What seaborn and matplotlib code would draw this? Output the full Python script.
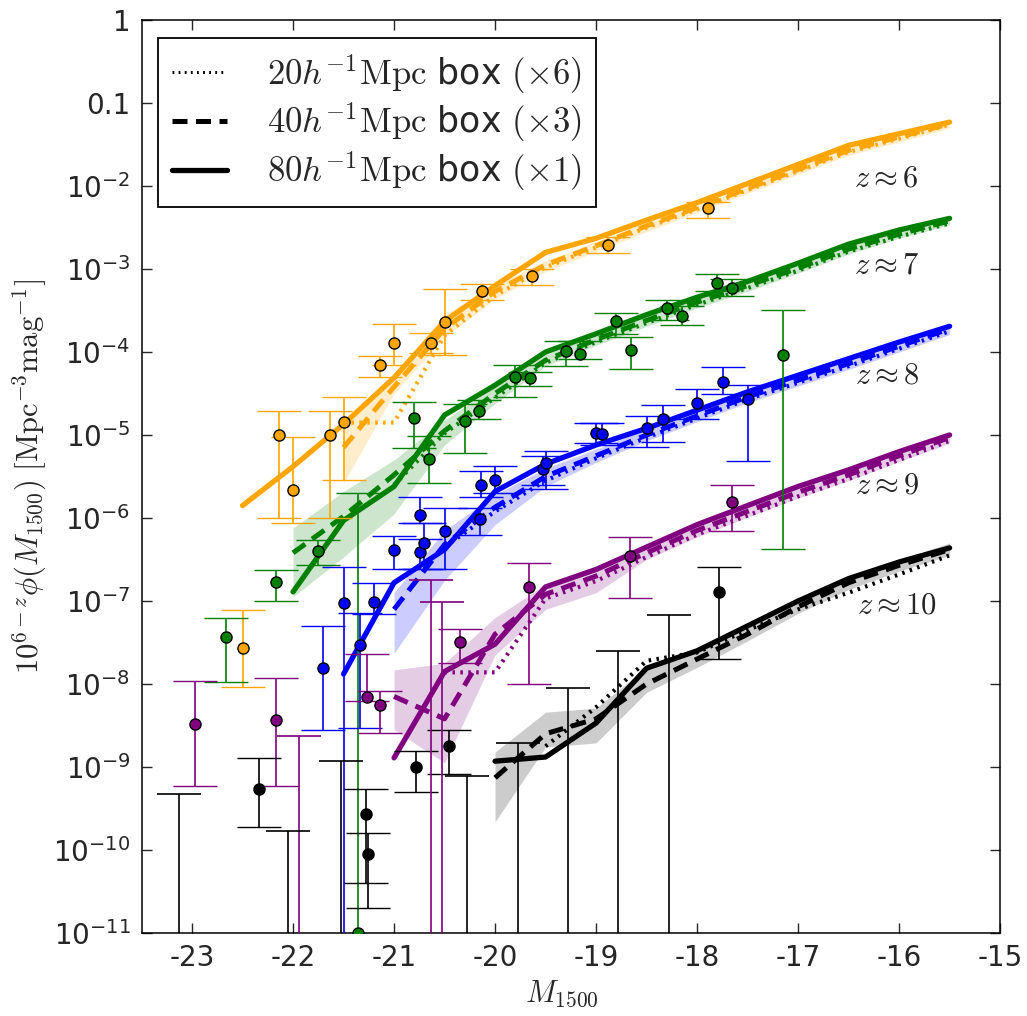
import numpy as np
import matplotlib
matplotlib.use("Agg")
import matplotlib.pyplot as plt
from matplotlib.lines import Line2D
from matplotlib.ticker import NullLocator
import seaborn as sns

# ---------------- model luminosity functions: log10(10^(6-z) phi) ----------------
# z ~ 6
z6_solid_mag = [-22.5, -22.0, -21.5, -21.0, -20.5, -20.0, -19.5, -19.0, -18.5, -18.0, -17.5, -17.0, -16.5, -16.0, -15.5]
z6_solid = [-5.85, -5.38, -4.87, -4.31, -3.63, -3.20, -2.80, -2.63, -2.41, -2.20, -1.97, -1.74, -1.51, -1.37, -1.23]
z6_dash_mag = [-21.5, -21.0, -20.5, -20.0, -19.5, -19.0, -18.5, -18.0, -17.5, -17.0, -16.5, -16.0, -15.5]
z6_dash = [-5.15, -4.42, -3.72, -3.27, -2.95, -2.72, -2.48, -2.26, -2.03, -1.80, -1.57, -1.41, -1.25]
z6_dot_mag = [-21.5, -21.0, -20.5, -20.0, -19.5, -19.0, -18.5, -18.0, -17.5, -17.0, -16.5, -16.0, -15.5]
z6_dot = [-4.85, -4.85, -3.80, -3.32, -2.98, -2.74, -2.50, -2.28, -2.05, -1.82, -1.59, -1.43, -1.26]
z6_band_lo = [-5.58, -4.50, -3.82, -3.36, -3.03, -2.79, -2.55, -2.32, -2.09, -1.86, -1.63, -1.47, -1.30]
z6_band_hi = [-4.84, -4.30, -3.55, -3.20, -2.90, -2.67, -2.43, -2.21, -1.98, -1.75, -1.52, -1.37, -1.22]

# z ~ 7
z7_solid_mag = [-22.0, -21.5, -21.0, -20.5, -20.0, -19.5, -19.0, -18.5, -18.0, -17.5, -17.0, -16.5, -16.0, -15.5]
z7_solid = [-6.89, -6.03, -5.62, -4.76, -4.40, -4.00, -3.78, -3.55, -3.34, -3.15, -2.93, -2.70, -2.53, -2.39]
z7_dash_mag = [-22.0, -21.5, -21.0, -20.5, -20.0, -19.5, -19.0, -18.5, -18.0, -17.5, -17.0, -16.5, -16.0, -15.5]
z7_dash = [-6.42, -5.98, -5.48, -4.95, -4.50, -4.10, -3.85, -3.62, -3.40, -3.20, -2.99, -2.76, -2.58, -2.42]
z7_dot_mag = [-21.0, -20.5, -20.0, -19.5, -19.0, -18.5, -18.0, -17.5, -17.0, -16.5, -16.0, -15.5]
z7_dot = [-5.60, -4.98, -4.55, -4.13, -3.88, -3.65, -3.43, -3.23, -3.02, -2.79, -2.61, -2.45]
z7_band_lo = [-6.95, -6.47, -5.95, -5.12, -4.62, -4.17, -3.92, -3.69, -3.47, -3.27, -3.05, -2.82, -2.63, -2.47]
z7_band_hi = [-6.12, -5.68, -5.30, -4.82, -4.42, -4.03, -3.80, -3.57, -3.35, -3.15, -2.94, -2.71, -2.54, -2.38]

# z ~ 8
z8_solid_mag = [-21.5, -21.0, -20.5, -20.0, -19.5, -19.0, -18.5, -18.0, -17.5, -17.0, -16.5, -16.0, -15.5]
z8_solid = [-7.88, -6.78, -6.38, -5.68, -5.35, -5.12, -4.92, -4.70, -4.48, -4.28, -4.08, -3.88, -3.69]
z8_dash_mag = [-21.0, -20.5, -20.0, -19.5, -19.0, -18.5, -18.0, -17.5, -17.0, -16.5, -16.0, -15.5]
z8_dash = [-7.10, -6.32, -5.87, -5.50, -5.25, -5.00, -4.77, -4.54, -4.34, -4.14, -3.93, -3.72]
z8_dot_mag = [-20.5, -20.0, -19.5, -19.0, -18.5, -18.0, -17.5, -17.0, -16.5, -16.0, -15.5]
z8_dot = [-6.35, -5.92, -5.55, -5.28, -5.03, -4.80, -4.57, -4.37, -4.17, -3.96, -3.75]
z8_band_lo = [-7.63, -6.75, -6.08, -5.62, -5.33, -5.07, -4.84, -4.61, -4.41, -4.21, -4.00, -3.79]
z8_band_hi = [-6.90, -6.15, -5.72, -5.40, -5.17, -4.93, -4.70, -4.47, -4.27, -4.07, -3.86, -3.66]

# z ~ 9
z9_solid_mag = [-21.0, -20.5, -20.0, -19.5, -19.0, -18.5, -18.0, -17.5, -17.0, -16.5, -16.0, -15.5]
z9_solid = [-8.89, -7.85, -7.52, -6.83, -6.62, -6.35, -6.08, -5.85, -5.62, -5.42, -5.20, -5.00]
z9_dash_mag = [-21.0, -20.5, -20.0, -19.5, -19.0, -18.5, -18.0, -17.5, -17.0, -16.5, -16.0, -15.5]
z9_dash = [-8.15, -8.42, -7.40, -6.92, -6.70, -6.42, -6.15, -5.92, -5.69, -5.48, -5.25, -5.03]
z9_dot_mag = [-20.5, -20.0, -19.5, -19.0, -18.5, -18.0, -17.5, -17.0, -16.5, -16.0, -15.5]
z9_dot = [-7.86, -7.86, -6.97, -6.76, -6.47, -6.20, -5.97, -5.74, -5.53, -5.30, -5.07]
z9_band_lo = [-8.55, -8.95, -7.65, -7.10, -6.90, -6.50, -6.23, -5.99, -5.76, -5.55, -5.32, -5.10]
z9_band_hi = [-7.83, -7.75, -7.20, -6.80, -6.58, -6.33, -6.07, -5.84, -5.61, -5.40, -5.18, -4.96]

# z ~ 10
z10_solid_mag = [-20.0, -19.5, -19.0, -18.5, -18.0, -17.5, -17.0, -16.5, -16.0, -15.5]
z10_solid = [-8.93, -8.88, -8.47, -7.81, -7.60, -7.30, -7.00, -6.73, -6.53, -6.36]
z10_dash_mag = [-20.0, -19.5, -19.0, -18.5, -18.0, -17.5, -17.0, -16.5, -16.0, -15.5]
z10_dash = [-9.13, -8.60, -8.42, -8.00, -7.70, -7.40, -7.07, -6.78, -6.57, -6.38]
z10_dot_mag = [-19.5, -19.0, -18.5, -18.0, -17.5, -17.0, -16.5, -16.0, -15.5]
z10_dot = [-8.75, -8.28, -7.72, -7.62, -7.35, -7.10, -6.90, -6.68, -6.45]
z10_band_lo = [-9.66, -8.76, -8.71, -8.10, -7.80, -7.48, -7.15, -6.86, -6.64, -6.45]
z10_band_hi = [-8.82, -8.34, -8.29, -7.80, -7.58, -7.30, -6.98, -6.70, -6.50, -6.30]

# ---------------- observed luminosity functions (log10 values, upper/lower error ends) ----------------
z6_obs_mag = [-22.50, -22.14, -22.00, -21.63, -21.50, -21.14, -21.00, -20.63, -20.50, -20.13, -19.63, -18.88, -17.89]
z6_obs = [-7.57, -5.00, -5.66, -5.00, -4.84, -4.16, -3.89, -3.89, -3.64, -3.27, -3.08, -2.71, -2.27]
z6_obs_hi = [-7.11, -4.71, -5.02, -4.71, -4.54, -4.05, -3.66, -3.77, -3.24, -3.18, -3.00, -2.62, -2.19]
z6_obs_lo = [-8.04, -6.00, -6.06, -6.00, -5.54, -4.30, -4.16, -4.01, -4.04, -3.37, -3.19, -2.81, -2.39]

z7_obs_mag = [-22.66, -22.17, -21.75, -21.36, -20.80, -20.65, -20.30, -20.16, -19.80, -19.65,
              -19.30, -19.16, -18.80, -18.65, -18.30, -18.15, -17.80, -17.65, -17.15]
z7_obs = [-7.43, -6.77, -6.40, -11.0, -4.80, -5.29, -4.83, -4.71, -4.30, -4.31,
          -3.99, -4.02, -3.63, -3.98, -3.47, -3.57, -3.17, -3.23, -4.04]
z7_obs_hi = [-7.20, -6.63, -6.27, -5.70, -4.60, -5.01, -4.63, -4.58, -4.16, -4.24,
             -3.87, -3.87, -3.53, -3.82, -3.37, -3.45, -3.06, -3.12, -3.49]
z7_obs_lo = [-7.98, -7.00, -6.57, -14.0, -5.16, -5.58, -5.22, -4.81, -4.54, -4.41,
             -4.17, -4.08, -3.78, -4.21, -3.61, -3.68, -3.27, -3.33, -6.37]

z8_obs_mag = [-21.70, -21.50, -21.34, -21.20, -21.00, -20.74, -20.74, -20.70, -20.50, -20.15, -20.14,
              -20.00, -19.53, -19.50, -19.00, -18.94, -18.50, -18.34, -18.00, -17.74, -17.50]
z8_obs = [-7.81, -7.02, -7.53, -7.01, -6.39, -5.96, -6.41, -6.30, -6.16, -6.01, -5.60,
          -5.54, -5.41, -5.34, -4.97, -4.99, -4.92, -4.81, -4.62, -4.36, -4.57]
z8_obs_hi = [-7.30, -6.59, -7.14, -6.78, -6.22, -5.75, -6.25, -6.06, -5.88, -5.88, -5.43,
             -5.37, -5.25, -5.19, -4.86, -4.86, -4.77, -4.64, -4.44, -4.18, -4.40]
z8_obs_lo = [-8.55, -14.0, -8.53, -7.16, -6.61, -6.06, -6.61, -6.61, -6.61, -6.20, -5.75,
             -5.70, -5.60, -5.65, -5.10, -5.12, -5.14, -5.08, -4.81, -4.50, -5.31]

z9_obs_mag = [-22.97, -22.17, -21.27, -21.14, -20.35, -19.66, -18.66, -17.65]
z9_obs = [-8.48, -8.43, -8.16, -8.25, -7.49, -6.83, -6.46, -5.81]
z9_obs_hi = [-7.96, -7.93, -7.64, -8.08, -7.34, -6.54, -6.23, -5.60]
z9_obs_lo = [-9.23, -9.23, -8.20, -8.59, -7.75, -8.00, -6.96, -6.16]
z9_lim_mag = [-21.94, -20.63, -20.53]
z9_lim_hi = [-8.63, -6.75, -7.01]

z10_obs_mag = [-22.34, -21.28, -21.26, -20.78, -20.46, -17.78]
z10_obs = [-9.27, -9.57, -10.05, -9.00, -8.75, -6.89]
z10_obs_hi = [-8.89, -9.27, -9.80, -8.81, -8.55, -6.59]
z10_obs_lo = [-9.72, -10.40, -10.70, -9.30, -9.08, -7.70]
z10_lim_mag = [-23.13, -22.05, -21.53, -20.28, -19.77, -19.28, -18.78, -18.28]
z10_lim_hi = [-9.33, -9.77, -8.93, -9.11, -8.71, -8.05, -7.60, -7.17]

redshift_labels = [r"$z\approx6$", r"$z\approx7$", r"$z\approx8$", r"$z\approx9$", r"$z\approx10$"]
redshift_label_mag = [-16.13, -16.12, -16.12, -16.12, -16.02]
redshift_label_log = [-1.90, -2.95, -4.28, -5.60, -7.05]

box_labels = [r"$20h^{-1}\mathrm{Mpc}$ box $(\times6)$",
              r"$40h^{-1}\mathrm{Mpc}$ box $(\times3)$",
              r"$80h^{-1}\mathrm{Mpc}$ box $(\times1)$"]

x_ticks = [-23, -22, -21, -20, -19, -18, -17, -16, -15]
y_tick_exp = [0, -1, -2, -3, -4, -5, -6, -7, -8, -9, -10, -11]
y_tick_labels = ["1", "0.1"] + [r"$\mathregular{10^{%d}}$" % e for e in y_tick_exp[2:]]

# ---------------- style ----------------
sns.set_style("ticks")
plt.rcParams["font.family"] = ["DejaVu Sans"]
plt.rcParams["mathtext.fontset"] = "cm"
plt.rcParams["axes.unicode_minus"] = False

fig = plt.figure(figsize=(10.27, 10.16), dpi=100)
ax = fig.add_axes([0.1378, 0.0817, 0.836, 0.8986])
ax.set_yscale("log")

DASH = (0, (3.0, 1.7))
DOT = (0, (0.6, 1.3))

series = [
    ("#FFA500", z6_solid_mag, z6_solid, z6_dash_mag, z6_dash, z6_dot_mag, z6_dot, z6_band_lo, z6_band_hi),
    ("#008000", z7_solid_mag, z7_solid, z7_dash_mag, z7_dash, z7_dot_mag, z7_dot, z7_band_lo, z7_band_hi),
    ("#0000FF", z8_solid_mag, z8_solid, z8_dash_mag, z8_dash, z8_dot_mag, z8_dot, z8_band_lo, z8_band_hi),
    ("#800080", z9_solid_mag, z9_solid, z9_dash_mag, z9_dash, z9_dot_mag, z9_dot, z9_band_lo, z9_band_hi),
    ("#000000", z10_solid_mag, z10_solid, z10_dash_mag, z10_dash, z10_dot_mag, z10_dot, z10_band_lo, z10_band_hi),
]

for color, sm, sv, dm, dv, om, ov, blo, bhi in series:
    ax.fill_between(dm, 10.0 ** np.array(blo), 10.0 ** np.array(bhi),
                    color=color, alpha=0.2, lw=0, zorder=1)
    sns.lineplot(x=om, y=10.0 ** np.array(ov), color=color, lw=3.0, linestyle=DOT,
                 ax=ax, legend=False, zorder=3)
    sns.lineplot(x=dm, y=10.0 ** np.array(dv), color=color, lw=3.6, linestyle=DASH,
                 ax=ax, legend=False, zorder=3)
    sns.lineplot(x=sm, y=10.0 ** np.array(sv), color=color, lw=3.8, linestyle="-",
                 ax=ax, legend=False, zorder=3)

observations = [
    ("#FFA500", z6_obs_mag, z6_obs, z6_obs_hi, z6_obs_lo),
    ("#008000", z7_obs_mag, z7_obs, z7_obs_hi, z7_obs_lo),
    ("#0000FF", z8_obs_mag, z8_obs, z8_obs_hi, z8_obs_lo),
    ("#800080", z9_obs_mag, z9_obs, z9_obs_hi, z9_obs_lo),
    ("#000000", z10_obs_mag, z10_obs, z10_obs_hi, z10_obs_lo),
]

err_kw = dict(elinewidth=1.2, capsize=16, capthick=1.2, zorder=4)
for color, m, v, hi, lo in observations:
    val = 10.0 ** np.array(v)
    up = 10.0 ** np.array(hi) - val
    dn = val - 10.0 ** np.array(lo)
    ax.errorbar(m, val, yerr=[dn, up], fmt="o", color=color, mfc=color, mec="k",
                mew=1.0, ms=8, **err_kw)

# upper limits: bars running down off the bottom of the axes
for color, m, hi in [("#800080", z9_lim_mag, z9_lim_hi), ("#000000", z10_lim_mag, z10_lim_hi)]:
    base = np.full(len(m), 1e-14)
    up = 10.0 ** np.array(hi) - base
    ax.errorbar(m, base, yerr=[np.zeros(len(m)), up], fmt="none", ecolor=color,
                **err_kw)

for txt, xm, yl in zip(redshift_labels, redshift_label_mag, redshift_label_log):
    ax.text(xm, 10.0 ** yl, txt, fontsize=22, ha="center", va="center", zorder=5)

ax.set_xlim(-23.5, -15)
ax.set_ylim(1e-11, 1)
ax.set_xticks(x_ticks)
ax.set_xticklabels([str(t) for t in x_ticks])
ax.set_yticks([10.0 ** e for e in y_tick_exp])
ax.set_yticklabels(y_tick_labels)
ax.yaxis.set_minor_locator(NullLocator())
ax.xaxis.set_minor_locator(NullLocator())
ax.tick_params(direction="in", top=True, right=True, length=7, width=1.0,
               labelsize=20, pad=8)
for sp in ax.spines.values():
    sp.set_linewidth(1.1)
    sp.set_color("k")

ax.set_xlabel(r"$M_{1500}$", fontsize=22)
ax.set_ylabel(r"$10^{6-z}\phi(M_{1500})\ [\mathrm{Mpc}^{-3}\mathrm{mag}^{-1}]$", fontsize=22)
ax.xaxis.set_label_coords(0.49, -0.05)
ax.yaxis.set_label_coords(-0.108, 0.5)

handles = [Line2D([], [], color="k", lw=2.2, linestyle=(0, (0.6, 1.4))),
           Line2D([], [], color="k", lw=3.6, linestyle=DASH),
           Line2D([], [], color="k", lw=3.8, linestyle="-")]
leg = ax.legend(handles, box_labels, loc="upper left", bbox_to_anchor=(0.0192, 0.980),
                borderaxespad=0, fontsize=25, frameon=True, fancybox=False,
                framealpha=1, edgecolor="k", handlelength=1.6, handletextpad=1.15,
                borderpad=0.4, labelspacing=0.15)
leg.get_frame().set_linewidth(1.3)
leg.set_zorder(6)

fig.savefig("out.png", dpi=100)
